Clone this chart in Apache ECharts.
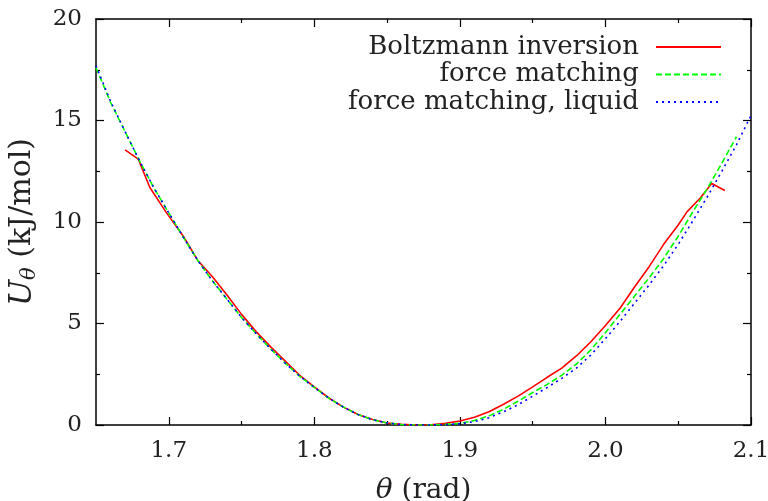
<!DOCTYPE html>
<html>
<head>
<meta charset="utf-8">
<script src="https://cdn.jsdelivr.net/npm/echarts@6/dist/echarts.min.js"></script>
<style>html,body{margin:0;padding:0;background:#fff}#c{width:768px;height:501px}</style>
</head>
<body>
<div id="c"></div>
<script>
// Series names
const seriesNames = ['Boltzmann inversion', 'force matching', 'force matching, liquid'];

// Boltzmann inversion
const thetaBI = [1.670,1.679,1.687,1.698,1.71,1.72,1.73,1.74,1.75,1.76,1.77,1.78,1.79,1.80,1.81,1.82,1.83,1.84,1.85,1.86,1.87,1.88,1.89,1.90,1.91,1.92,1.93,1.94,1.95,1.96,1.97,1.98,1.99,2.00,2.01,2.02,2.03,2.04,2.05,2.056,2.065,2.073,2.082];
const uBI     = [13.55,13.1,11.7,10.5,9.3,8.1,7.3,6.4,5.45,4.6,3.85,3.15,2.45,1.88,1.33,0.88,0.52,0.27,0.1,0.03,0.0,0.01,0.08,0.2,0.38,0.65,1.02,1.42,1.88,2.35,2.8,3.4,4.1,4.9,5.75,6.8,7.8,8.9,9.85,10.5,11.17,11.9,11.55];

// force matching
const thetaFM = [1.65,1.66,1.67,1.68,1.69,1.70,1.71,1.72,1.73,1.74,1.75,1.76,1.77,1.78,1.79,1.80,1.81,1.82,1.83,1.84,1.85,1.86,1.87,1.88,1.89,1.90,1.91,1.92,1.93,1.94,1.95,1.96,1.97,1.98,1.99,2.00,2.01,2.02,2.03,2.04,2.05,2.06,2.07,2.08,2.09];
const uFM     = [17.6,15.9,14.45,13.0,11.65,10.45,9.25,8.1,7.1,6.2,5.3,4.5,3.75,3.05,2.4,1.85,1.32,0.88,0.52,0.26,0.1,0.02,0.0,0.0,0.03,0.08,0.22,0.45,0.78,1.17,1.6,2.0,2.45,3.0,3.7,4.55,5.45,6.35,7.25,8.2,9.3,10.5,11.65,12.9,14.2];

// force matching, liquid
const thetaLQ = [1.65,1.66,1.67,1.68,1.69,1.70,1.71,1.72,1.73,1.74,1.75,1.76,1.77,1.78,1.79,1.80,1.81,1.82,1.83,1.84,1.85,1.86,1.87,1.88,1.89,1.90,1.91,1.92,1.93,1.94,1.95,1.96,1.97,1.98,1.99,2.00,2.01,2.02,2.03,2.04,2.05,2.06,2.07,2.08,2.09,2.10];
const uLQ     = [17.7,15.95,14.45,13.0,11.65,10.45,9.25,8.1,7.1,6.2,5.3,4.5,3.75,3.05,2.4,1.85,1.32,0.88,0.52,0.26,0.1,0.02,0.0,0.0,0.02,0.06,0.17,0.36,0.65,1.0,1.42,1.85,2.3,2.8,3.45,4.25,5.1,6.0,6.9,7.85,8.9,10.05,11.25,12.5,13.8,15.25];

// Axis ticks
const xMajorTicks = [1.7, 1.8, 1.9, 2.0, 2.1];
const xMinorTicks = [1.75, 1.85, 1.95, 2.05];

const FONT = 'DejaVu Serif';
const TXT = '#222';
const zip = (a, b) => a.map((v, i) => [v, b[i]]);

const xBase = (pos, ticks, len, showLine, showLabel) => ({
  type: 'value', min: 1.65, max: 2.1, position: pos,
  axisLine: { show: showLine, onZero: false, lineStyle: { color: '#000', width: 1.5 } },
  axisTick: { show: true, inside: true, length: len, customValues: ticks, lineStyle: { color: '#000', width: 1.2 } },
  axisLabel: { show: showLabel, customValues: ticks, formatter: v => v.toFixed(1), fontFamily: FONT, fontSize: 23, color: TXT, margin: 15 },
  splitLine: { show: false }
});

const yBase = (pos, showLabel) => ({
  type: 'value', min: 0, max: 20, interval: 5, position: pos,
  axisLine: { show: true, onZero: false, lineStyle: { color: '#000', width: 1.5 } },
  axisTick: { show: true, inside: true, length: 8, lineStyle: { color: '#000', width: 1.2 } },
  minorTick: { show: true, splitNumber: 2, length: 4, lineStyle: { color: '#000', width: 1.2 } },
  axisLabel: { show: showLabel, fontFamily: FONT, fontSize: 23, color: TXT, margin: 14 },
  splitLine: { show: false }
});

const x0 = xBase('bottom', xMajorTicks, 8, true, true);
x0.name = '{t|θ}{r| (rad)}';
x0.nameLocation = 'middle';
x0.nameGap = 52;
x0.nameTextStyle = { fontFamily: FONT, fontSize: 28, color: TXT, rich: {
  t: { fontFamily: FONT, fontSize: 28, fontStyle: 'italic', color: TXT },
  r: { fontFamily: FONT, fontSize: 28, color: TXT }
} };

const y0 = yBase('left', true);
y0.name = '{u|U}{s|θ}{r| (kJ/mol)}';
y0.nameLocation = 'middle';
y0.nameGap = 56;
y0.nameRotate = 90;
y0.nameTextStyle = { fontFamily: FONT, fontSize: 30, color: TXT, rich: {
  u: { fontFamily: FONT, fontSize: 31, fontStyle: 'italic', color: TXT },
  s: { fontFamily: FONT, fontSize: 21, fontStyle: 'italic', color: TXT, padding: [14, 0, 0, 0] },
  r: { fontFamily: FONT, fontSize: 30, color: TXT }
} };

const colors = ['#ff0000', '#00ff00', '#0000ff'];
const lineTypes = ['solid', [6, 3], [2, 4]];
const datasets = [zip(thetaBI, uBI), zip(thetaFM, uFM), zip(thetaLQ, uLQ)];

const legends = seriesNames.map((n, i) => ({
  data: [n], orient: 'horizontal', align: 'right', right: 46, top: 34 + i * 27.5,
  itemWidth: 65, itemHeight: 12, padding: 0,
  itemStyle: { opacity: 0 },
  textStyle: { fontFamily: FONT, fontSize: 26, color: TXT, padding: [0, 12, 0, 0] }
}));

const option = {
  animation: false,
  backgroundColor: '#fff',
  grid: { left: 96, right: 17, top: 19, bottom: 76, containLabel: false, outerBoundsMode: 'none' },
  legend: legends,
  xAxis: [
    x0,
    xBase('bottom', xMinorTicks, 4, false, false),
    xBase('top', xMajorTicks, 8, true, false),
    xBase('top', xMinorTicks, 4, false, false)
  ],
  yAxis: [y0, yBase('right', false)],
  series: seriesNames.map((n, i) => ({
    name: n, type: 'line', xAxisIndex: 0, yAxisIndex: 0,
    data: datasets[i], showSymbol: false, symbol: 'none', clip: true,
    color: colors[i],
    lineStyle: { color: colors[i], width: 1.6, type: lineTypes[i] }
  }))
};

echarts.init(document.getElementById('c'), null, { renderer: 'canvas' }).setOption(option);
</script>
</body>
</html>
